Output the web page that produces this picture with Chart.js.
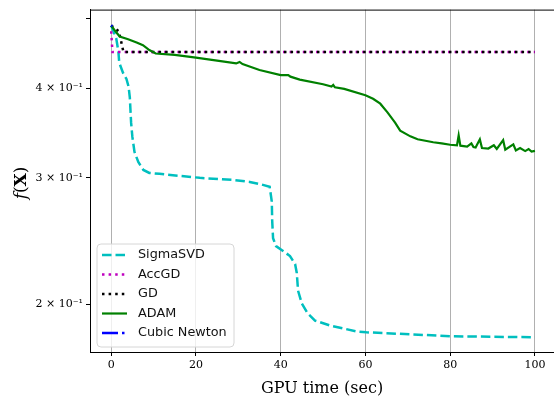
<!DOCTYPE html>
<html>
<head>
<meta charset="utf-8">
<script src="https://cdn.jsdelivr.net/npm/chart.js@4"></script>
<style>
  html, body { margin: 0; padding: 0; background: #fff; overflow: hidden; }
  #wrap { width: 554px; height: 402px; }
</style>
</head>
<body>
<div id="wrap"><canvas id="chart" width="554" height="402"></canvas></div>
<script>
// ---------------------
// Data
// ---------------------
const seriesNames = ['SigmaSVD', 'AccGD', 'GD', 'ADAM', 'Cubic Newton'];

const sigmaX = [0, 1.2, 1.7, 1.9, 2.8, 3.6, 4.1, 4.4, 4.7, 5.0, 5.5, 6.4, 7.6, 9.0, 11.4, 20.9, 28.7, 32.7, 35.8, 37.4,
  37.9, 38.0, 38.2, 38.9, 40.3, 42.2, 43.4, 43.8, 44.1, 45.0, 46.4, 48.1, 51.7, 54.7, 57.8, 60.2, 70.6, 80.1, 100];
const sigmaY = [0.489, 0.469, 0.450, 0.434, 0.420, 0.412, 0.402, 0.388, 0.358, 0.342, 0.326, 0.3155, 0.3076, 0.3047, 0.3038, 0.2999, 0.2979, 0.2960, 0.2932, 0.2914,
  0.278, 0.261, 0.2471, 0.2409, 0.2378, 0.2333, 0.2274, 0.2210, 0.2088, 0.2003, 0.1940, 0.1897, 0.1867, 0.1850, 0.1832, 0.1827, 0.1815, 0.1804, 0.1798];

const accX = [0, 0.3, 100];
const accY = [0.480, 0.449, 0.449];

const gdX = [0, 1.8, 2.2, 2.9, 100];
const gdY = [0.489, 0.480, 0.469, 0.449, 0.449];

const adamX = [0, 1, 2, 4, 6, 7.5, 9, 10.5, 15, 20, 25, 29.5, 30.3, 31, 35, 40, 41.8, 42.3, 44.5, 50,
  52, 52.4, 52.8, 55, 60, 61.8, 63.5, 65.2, 67, 68.2, 70.6, 72.3, 76, 78, 80, 81.6, 82, 82.4, 84, 85,
  85.5, 86, 87, 87.5, 89, 90.3, 91, 92.5, 93, 94.9, 95.5, 96.5, 97.7, 98.5, 99.2, 100];
const adamY = [0.489, 0.480, 0.472, 0.468, 0.463, 0.459, 0.452, 0.447, 0.445, 0.441, 0.437, 0.433, 0.435, 0.432, 0.424, 0.417, 0.417, 0.415, 0.411, 0.405,
  0.402, 0.404, 0.401, 0.399, 0.391, 0.3866, 0.3805, 0.370, 0.358, 0.349, 0.3426, 0.3394, 0.3362, 0.3350, 0.3335, 0.3328, 0.3437, 0.3325, 0.3315, 0.3350,
  0.3310, 0.3305, 0.3394, 0.3300, 0.3295, 0.3330, 0.3290, 0.3384, 0.3282, 0.3340, 0.3275, 0.3300, 0.3268, 0.3290, 0.3262, 0.3270];

const cubicX = [0, 0.3];
const cubicY = [0.489, 0.488];

const xTicks = [0, 20, 40, 60, 80, 100];
const yTicks = [0.2, 0.3, 0.4, 0.5];
const yTickLabels = ['2 × 10⁻¹', '3 × 10⁻¹', '4 × 10⁻¹', ''];

const pts = (xs, ys) => xs.map((x, i) => ({ x: x, y: ys[i] }));

// ---------------------
// Plugins: top spine, legend inside the axes, y label
// ---------------------
const framePlugin = {
  id: 'frame',
  afterDraw(chart) {
    const { ctx, chartArea: a } = chart;
    ctx.save();
    ctx.strokeStyle = '#000';
    ctx.lineWidth = 1;
    ctx.beginPath();
    ctx.moveTo(a.left, a.top + 0.5);
    ctx.lineTo(a.right, a.top + 0.5);
    ctx.stroke();
    ctx.restore();
  }
};

const legendPlugin = {
  id: 'innerLegend',
  afterDraw(chart) {
    const ctx = chart.ctx;
    const bx = 97, by = 244, bw = 137, bh = 103, r = 4;
    ctx.save();
    ctx.beginPath();
    ctx.moveTo(bx + r, by);
    ctx.arcTo(bx + bw, by, bx + bw, by + bh, r);
    ctx.arcTo(bx + bw, by + bh, bx, by + bh, r);
    ctx.arcTo(bx, by + bh, bx, by, r);
    ctx.arcTo(bx, by, bx + bw, by, r);
    ctx.closePath();
    ctx.fillStyle = 'rgba(255,255,255,0.8)';
    ctx.fill();
    ctx.strokeStyle = '#d6d6d6';
    ctx.lineWidth = 1;
    ctx.stroke();

    chart.data.datasets.forEach((ds, i) => {
      const y = 255 + i * 19.5;
      ctx.beginPath();
      ctx.setLineDash(ds.borderDash || []);
      ctx.lineWidth = ds.borderWidth;
      ctx.strokeStyle = ds.borderColor;
      ctx.moveTo(102, y);
      ctx.lineTo(127, y);
      ctx.stroke();
      ctx.setLineDash([]);
      ctx.fillStyle = '#111';
      ctx.font = '12.8px "DejaVu Sans"';
      ctx.textBaseline = 'middle';
      ctx.textAlign = 'left';
      ctx.fillText(ds.label, 138, y);
    });
    ctx.restore();
  }
};

const yLabelPlugin = {
  id: 'yLabel',
  afterDraw(chart) {
    const ctx = chart.ctx;
    const parts = [
      ['f', 'italic 17px "DejaVu Serif"'],
      ['(', '17px "DejaVu Serif"'],
      ['X', 'bold 17px "DejaVu Serif"'],
      [')', '17px "DejaVu Serif"']
    ];
    ctx.save();
    ctx.translate(22, 183);
    ctx.rotate(-Math.PI / 2);
    let w = 0;
    parts.forEach(p => { ctx.font = p[1]; w += ctx.measureText(p[0]).width; });
    let x = -w / 2;
    ctx.fillStyle = '#000';
    ctx.textBaseline = 'middle';
    parts.forEach(p => {
      ctx.font = p[1];
      ctx.fillText(p[0], x, 0);
      x += ctx.measureText(p[0]).width;
    });
    ctx.restore();
  }
};

// ---------------------
// Chart
// ---------------------
const lw = 2.5;
new Chart(document.getElementById('chart'), {
  type: 'line',
  data: {
    datasets: [
      { label: seriesNames[0], data: pts(sigmaX, sigmaY), borderColor: '#00bfbf', borderWidth: lw, borderDash: [9.5, 4], order: 5 },
      { label: seriesNames[1], data: pts(accX, accY), borderColor: '#bf00bf', borderWidth: lw, borderDash: [2.5, 4.1], order: 4 },
      { label: seriesNames[2], data: pts(gdX, gdY), borderColor: '#000000', borderWidth: lw, borderDash: [2.5, 4.1], order: 3 },
      { label: seriesNames[3], data: pts(adamX, adamY), borderColor: '#008000', borderWidth: 2.2, borderDash: [], order: 2 },
      { label: seriesNames[4], data: pts(cubicX, cubicY), borderColor: '#0000ff', borderWidth: lw, borderDash: [16, 4, 2.5, 4], order: 1 }
    ]
  },
  options: {
    responsive: false,
    animation: false,
    devicePixelRatio: 1,
    layout: { padding: { top: 6, right: 0, left: 0, bottom: 0 } },
    elements: { point: { radius: 0 }, line: { tension: 0, fill: false, borderCapStyle: 'butt' } },
    plugins: { legend: { display: false }, tooltip: { enabled: false } },
    scales: {
      x: {
        type: 'linear',
        min: -5,
        max: 104.5,
        afterBuildTicks: s => { s.ticks = xTicks.map(v => ({ value: v })); },
        afterFit: s => { s.height = 50; s.paddingRight = 0; },
        grid: { color: '#b0b0b0', lineWidth: 1, tickColor: '#000', tickLength: 4 },
        border: { color: '#000', width: 1 },
        ticks: { color: '#000', padding: 3, autoSkip: false, maxRotation: 0,
          font: { family: 'DejaVu Serif', size: 11 } },
        title: { display: true, text: 'GPU time (sec)', color: '#000',
          font: { family: 'DejaVu Serif', size: 16 }, padding: { top: 0, bottom: 4 } }
      },
      y: {
        type: 'logarithmic',
        min: 0.1715,
        max: 0.5146,
        afterBuildTicks: s => { s.ticks = yTicks.map(v => ({ value: v })); },
        afterFit: s => { s.width = 90; },
        grid: { drawOnChartArea: false, tickColor: '#000', tickLength: 4 },
        border: { color: '#000', width: 1 },
        ticks: {
          color: '#000', padding: 3, autoSkip: false,
          font: { family: 'DejaVu Serif', size: 11 },
          callback: v => { const i = yTicks.indexOf(v); return i >= 0 ? yTickLabels[i] : ''; }
        }
      }
    }
  },
  plugins: [framePlugin, legendPlugin, yLabelPlugin]
});
</script>
</body>
</html>
